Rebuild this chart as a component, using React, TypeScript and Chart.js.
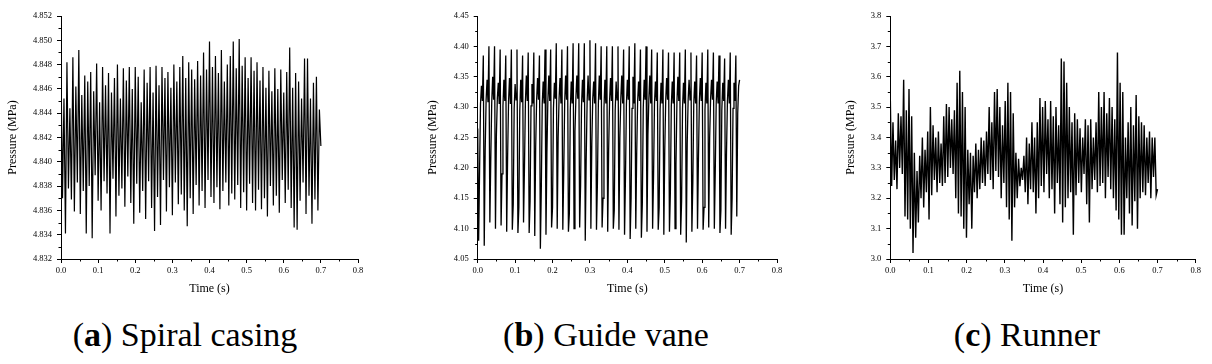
import React, { useEffect, useRef } from "react";
import { Chart, registerables } from "chart.js";

Chart.register(...registerables);

// ---------- data ----------
const X_TICKS = [0.0, 0.1, 0.2, 0.3, 0.4, 0.5, 0.6, 0.7, 0.8];

const Y_TICKS_SPIRAL = [4.832, 4.834, 4.836, 4.838, 4.84, 4.842, 4.844, 4.846, 4.848, 4.85, 4.852];
const Y_TICKS_GUIDE = [4.05, 4.1, 4.15, 4.2, 4.25, 4.3, 4.35, 4.4, 4.45];
const Y_TICKS_RUNNER = [3.0, 3.1, 3.2, 3.3, 3.4, 3.5, 3.6, 3.7, 3.8];

// sampling step (s) of each record; the first sample is at t = 0
const STEP_SPIRAL = 0.004;
const STEP_GUIDE = 0.0025;
const STEP_RUNNER = 0.0035;

const PRESSURE_SPIRAL = [
  4.8476, 4.8370, 4.8452, 4.8341, 4.8482, 4.8378, 4.8444, 4.8369,
  4.8486, 4.8359, 4.8462, 4.8383, 4.8492, 4.8357, 4.8455, 4.8376,
  4.8471, 4.8341, 4.8466, 4.8380, 4.8474, 4.8337, 4.8458, 4.8389,
  4.8481, 4.8368, 4.8449, 4.8360, 4.8478, 4.8384, 4.8463, 4.8374,
  4.8473, 4.8341, 4.8457, 4.8386, 4.8469, 4.8355, 4.8480, 4.8372,
  4.8452, 4.8378, 4.8477, 4.8363, 4.8467, 4.8388, 4.8478, 4.8366,
  4.8460, 4.8349, 4.8478, 4.8382, 4.8470, 4.8358, 4.8449, 4.8376,
  4.8476, 4.8353, 4.8465, 4.8384, 4.8478, 4.8362, 4.8457, 4.8343,
  4.8479, 4.8371, 4.8463, 4.8348, 4.8478, 4.8385, 4.8469, 4.8359,
  4.8474, 4.8379, 4.8461, 4.8356, 4.8480, 4.8383, 4.8466, 4.8365,
  4.8478, 4.8373, 4.8487, 4.8360, 4.8469, 4.8347, 4.8482, 4.8370,
  4.8476, 4.8357, 4.8468, 4.8381, 4.8483, 4.8364, 4.8471, 4.8376,
  4.8490, 4.8362, 4.8476, 4.8385, 4.8499, 4.8371, 4.8478, 4.8366,
  4.8487, 4.8379, 4.8473, 4.8361, 4.8492, 4.8376, 4.8466, 4.8383,
  4.8480, 4.8364, 4.8487, 4.8374, 4.8499, 4.8369, 4.8477, 4.8381,
  4.8501, 4.8362, 4.8479, 4.8375, 4.8486, 4.8360, 4.8469, 4.8382,
  4.8486, 4.8366, 4.8475, 4.8360, 4.8482, 4.8377, 4.8467, 4.8361,
  4.8478, 4.8370, 4.8461, 4.8355, 4.8475, 4.8380, 4.8458, 4.8364,
  4.8477, 4.8372, 4.8460, 4.8358, 4.8476, 4.8385, 4.8457, 4.8366,
  4.8474, 4.8377, 4.8494, 4.8362, 4.8461, 4.8346, 4.8473, 4.8344,
  4.8466, 4.8368, 4.8452, 4.8383, 4.8485, 4.8357, 4.8485, 4.8372,
  4.8452, 4.8349, 4.8465, 4.8369, 4.8470, 4.8360, 4.8443, 4.8413,
];

const PRESSURE_GUIDE = [
  4.265,
  4.080, 4.195, 4.305, 4.335, 4.310, 4.385,
  4.072, 4.230, 4.312, 4.345, 4.308, 4.400,
  4.110, 4.215, 4.308, 4.350, 4.312, 4.400,
  4.100, 4.255, 4.315, 4.340, 4.305, 4.395,
  4.105, 4.190, 4.302, 4.345, 4.310, 4.385,
  4.095, 4.220, 4.310, 4.348, 4.305, 4.395,
  4.098, 4.140, 4.298, 4.338, 4.312, 4.395,
  4.093, 4.135, 4.295, 4.345, 4.308, 4.385,
  4.110, 4.200, 4.308, 4.352, 4.310, 4.390,
  4.093, 4.145, 4.302, 4.338, 4.306, 4.390,
  4.088, 4.235, 4.312, 4.348, 4.312, 4.385,
  4.067, 4.165, 4.305, 4.342, 4.306, 4.395,
  4.090, 4.225, 4.310, 4.352, 4.310, 4.395,
  4.102, 4.135, 4.298, 4.340, 4.314, 4.405,
  4.100, 4.250, 4.314, 4.348, 4.306, 4.395,
  4.098, 4.195, 4.308, 4.352, 4.312, 4.400,
  4.095, 4.125, 4.295, 4.342, 4.306, 4.405,
  4.100, 4.260, 4.315, 4.352, 4.314, 4.405,
  4.102, 4.170, 4.302, 4.345, 4.308, 4.405,
  4.080, 4.215, 4.310, 4.352, 4.312, 4.410,
  4.100, 4.240, 4.314, 4.342, 4.306, 4.405,
  4.098, 4.175, 4.305, 4.352, 4.312, 4.400,
  4.102, 4.150, 4.298, 4.345, 4.306, 4.400,
  4.095, 4.230, 4.310, 4.348, 4.310, 4.400,
  4.100, 4.130, 4.295, 4.342, 4.312, 4.400,
  4.098, 4.250, 4.314, 4.352, 4.306, 4.395,
  4.090, 4.185, 4.305, 4.345, 4.312, 4.400,
  4.083, 4.150, 4.298, 4.350, 4.306, 4.405,
  4.100, 4.225, 4.310, 4.342, 4.310, 4.395,
  4.085, 4.140, 4.298, 4.345, 4.312, 4.400,
  4.095, 4.255, 4.314, 4.352, 4.306, 4.395,
  4.100, 4.185, 4.305, 4.342, 4.310, 4.390,
  4.098, 4.135, 4.296, 4.340, 4.306, 4.395,
  4.090, 4.230, 4.310, 4.348, 4.312, 4.390,
  4.095, 4.160, 4.302, 4.342, 4.306, 4.390,
  4.100, 4.205, 4.308, 4.350, 4.310, 4.390,
  4.090, 4.145, 4.298, 4.340, 4.306, 4.395,
  4.077, 4.240, 4.312, 4.345, 4.312, 4.390,
  4.095, 4.175, 4.305, 4.342, 4.306, 4.385,
  4.100, 4.215, 4.310, 4.348, 4.310, 4.390,
  4.098, 4.135, 4.296, 4.340, 4.306, 4.395,
  4.102, 4.250, 4.314, 4.345, 4.312, 4.390,
  4.100, 4.195, 4.308, 4.342, 4.306, 4.385,
  4.093, 4.130, 4.295, 4.340, 4.310, 4.380,
  4.100, 4.225, 4.310, 4.345, 4.306, 4.390,
  4.090, 4.150, 4.298, 4.340, 4.310, 4.385,
  4.120, 4.290, 4.335, 4.345,
];

const PRESSURE_RUNNER = [
  3.53, 3.24, 3.45, 3.26, 3.39, 3.23, 3.48, 3.30, 3.47, 3.28,
  3.59, 3.14, 3.49, 3.13, 3.56, 3.10, 3.47, 3.02, 3.35, 3.07,
  3.29, 3.12, 3.34, 3.20, 3.40, 3.17, 3.36, 3.22, 3.42, 3.13,
  3.50, 3.21, 3.44, 3.26, 3.40, 3.22, 3.42, 3.25, 3.38, 3.24,
  3.47, 3.25, 3.51, 3.27, 3.50, 3.30, 3.46, 3.28, 3.49, 3.20,
  3.58, 3.15, 3.62, 3.14, 3.55, 3.10, 3.50, 3.07, 3.36, 3.18,
  3.35, 3.10, 3.34, 3.22, 3.38, 3.20, 3.36, 3.23, 3.40, 3.25,
  3.39, 3.24, 3.42, 3.28, 3.50, 3.26, 3.45, 3.23, 3.55, 3.29,
  3.56, 3.27, 3.50, 3.20, 3.44, 3.25, 3.52, 3.17, 3.58, 3.13,
  3.55, 3.06, 3.48, 3.17, 3.35, 3.20, 3.33, 3.24, 3.30, 3.26,
  3.34, 3.22, 3.40, 3.18, 3.38, 3.23, 3.45, 3.22, 3.40, 3.15,
  3.45, 3.20, 3.53, 3.24, 3.50, 3.22, 3.52, 3.28, 3.46, 3.20,
  3.52, 3.23, 3.47, 3.15, 3.50, 3.25, 3.44, 3.18, 3.66, 3.12,
  3.65, 3.17, 3.58, 3.20, 3.50, 3.22, 3.45, 3.08, 3.48, 3.21,
  3.46, 3.25, 3.43, 3.22, 3.40, 3.28, 3.46, 3.18, 3.44, 3.12,
  3.46, 3.23, 3.40, 3.26, 3.45, 3.22, 3.55, 3.24, 3.50, 3.25,
  3.55, 3.20, 3.48, 3.27, 3.53, 3.23, 3.50, 3.20, 3.46, 3.16,
  3.68, 3.13, 3.58, 3.08, 3.55, 3.08, 3.40, 3.20, 3.45, 3.15,
  3.50, 3.11, 3.44, 3.19, 3.54, 3.10, 3.47, 3.20, 3.45, 3.22,
  3.44, 3.21, 3.40, 3.25, 3.42, 3.20, 3.40, 3.27, 3.40, 3.21,
  3.23,
];

const X_TITLE = "Time (s)";
const Y_TITLE = "Pressure (MPa)";

// ---------- chart helpers ----------
const FONT = "'Liberation Serif', 'Times New Roman', serif";

const minorTicks = {
  id: "minorTicks",
  afterDraw(chart: any) {
    const ctx = chart.ctx;
    const xs = chart.scales.x;
    const ys = chart.scales.y;
    ctx.save();
    ctx.strokeStyle = "#000";
    ctx.lineWidth = 1;
    const xv = xs.ticks.map((t: any) => t.value);
    for (let i = 0; i < xv.length - 1; i++) {
      const px = Math.round(xs.getPixelForValue((xv[i] + xv[i + 1]) / 2)) + 0.5;
      ctx.beginPath();
      ctx.moveTo(px, xs.top);
      ctx.lineTo(px, xs.top + 2.5);
      ctx.stroke();
    }
    const yv = ys.ticks.map((t: any) => t.value);
    for (let i = 0; i < yv.length - 1; i++) {
      const py = Math.round(ys.getPixelForValue((yv[i] + yv[i + 1]) / 2)) + 0.5;
      ctx.beginPath();
      ctx.moveTo(ys.right, py);
      ctx.lineTo(ys.right - 2.5, py);
      ctx.stroke();
    }
    ctx.restore();
  },
};

type PanelCfg = {
  values: number[];
  step: number;
  yTicks: number[];
  yDecimals: number;
  yWidth: number;
  rightPad: number;
  yTitlePad: number;
  lineWidth: number;
};

function makeChart(canvas: HTMLCanvasElement, p: PanelCfg) {
  const points = p.values.map((v, i) => ({ x: i * p.step, y: v }));
  return new Chart(canvas, {
    type: "line",
    data: {
      datasets: [
        {
          data: points,
          borderColor: "#000",
          borderWidth: p.lineWidth,
          pointRadius: 0,
          tension: 0,
          fill: false,
        },
      ],
    },
    plugins: [minorTicks],
    options: {
      responsive: false,
      animation: false,
      events: [],
      layout: { padding: { left: 0, right: p.rightPad, top: 16, bottom: 0 } },
      plugins: { legend: { display: false }, tooltip: { enabled: false } },
      scales: {
        x: {
          type: "linear",
          min: X_TICKS[0],
          max: X_TICKS[X_TICKS.length - 1],
          afterBuildTicks: (s: any) => {
            s.ticks = X_TICKS.map((v) => ({ value: v }));
          },
          afterFit: (s: any) => {
            s.height = 41;
          },
          grid: { display: true, drawOnChartArea: false, tickLength: 4, color: "#000", tickColor: "#000" },
          border: { display: true, color: "#000", width: 1 },
          ticks: {
            autoSkip: false,
            maxRotation: 0,
            padding: 3,
            color: "#000",
            font: { family: FONT, size: 8.5 },
            callback: (v: any) => Number(v).toFixed(1),
          },
          title: {
            display: true,
            text: X_TITLE,
            color: "#000",
            font: { family: FONT, size: 12 },
            padding: { top: 0, bottom: 3.8 },
          },
        },
        y: {
          type: "linear",
          min: p.yTicks[0],
          max: p.yTicks[p.yTicks.length - 1],
          afterBuildTicks: (s: any) => {
            s.ticks = p.yTicks.map((v) => ({ value: v }));
          },
          afterFit: (s: any) => {
            s.width = p.yWidth;
          },
          grid: { display: true, drawOnChartArea: false, tickLength: 4, color: "#000", tickColor: "#000" },
          border: { display: true, color: "#000", width: 1 },
          ticks: {
            autoSkip: false,
            padding: 5,
            color: "#000",
            font: { family: FONT, size: 8.5 },
            callback: (v: any) => Number(v).toFixed(p.yDecimals),
          },
          title: {
            display: true,
            text: Y_TITLE,
            color: "#000",
            font: { family: FONT, size: 12 },
            padding: { top: p.yTitlePad, bottom: 0 },
          },
        },
      },
    },
  } as any);
}

const PANELS = [
  {
    left: 0,
    width: 370,
    cfg: { values: PRESSURE_SPIRAL, step: STEP_SPIRAL, yTicks: Y_TICKS_SPIRAL, yDecimals: 3, yWidth: 61, rightPad: 12, yTitlePad: 5.8, lineWidth: 1.2 },
    tag: "a",
    caption: "Spiral casing",
    center: 185,
  },
  {
    left: 420,
    width: 370,
    cfg: { values: PRESSURE_GUIDE, step: STEP_GUIDE, yTicks: Y_TICKS_GUIDE, yDecimals: 2, yWidth: 57.7, rightPad: 13, yTitlePad: 5.8, lineWidth: 1.3 },
    tag: "b",
    caption: "Guide vane",
    center: 606,
  },
  {
    left: 830,
    width: 380,
    cfg: { values: PRESSURE_RUNNER, step: STEP_RUNNER, yTicks: Y_TICKS_RUNNER, yDecimals: 1, yWidth: 60.3, rightPad: 14.3, yTitlePad: 13.8, lineWidth: 1.4 },
    tag: "c",
    caption: "Runner",
    center: 1027,
  },
];

export default function App() {
  const refs = [useRef<HTMLCanvasElement>(null), useRef<HTMLCanvasElement>(null), useRef<HTMLCanvasElement>(null)];

  useEffect(() => {
    const charts = PANELS.map((p, i) => makeChart(refs[i].current as HTMLCanvasElement, p.cfg as PanelCfg));
    return () => charts.forEach((c) => c.destroy());
  }, []);

  return (
    <div style={{ position: "absolute", left: 0, top: 0, width: 1212, height: 364, background: "#fff", overflow: "hidden" }}>
      {PANELS.map((p, i) => (
        <canvas
          key={p.tag}
          ref={refs[i]}
          width={p.width}
          height={300}
          style={{ position: "absolute", left: p.left, top: 0, width: p.width, height: 300 }}
        />
      ))}
      {PANELS.map((p) => (
        <div
          key={"cap" + p.tag}
          style={{
            position: "absolute",
            left: p.center - 200,
            width: 400,
            top: 318,
            lineHeight: "34px",
            textAlign: "center",
            fontFamily: FONT,
            fontSize: 34,
            color: "#000",
            whiteSpace: "nowrap",
          }}
        >
          (<b>{p.tag}</b>) {p.caption}
        </div>
      ))}
    </div>
  );
}
